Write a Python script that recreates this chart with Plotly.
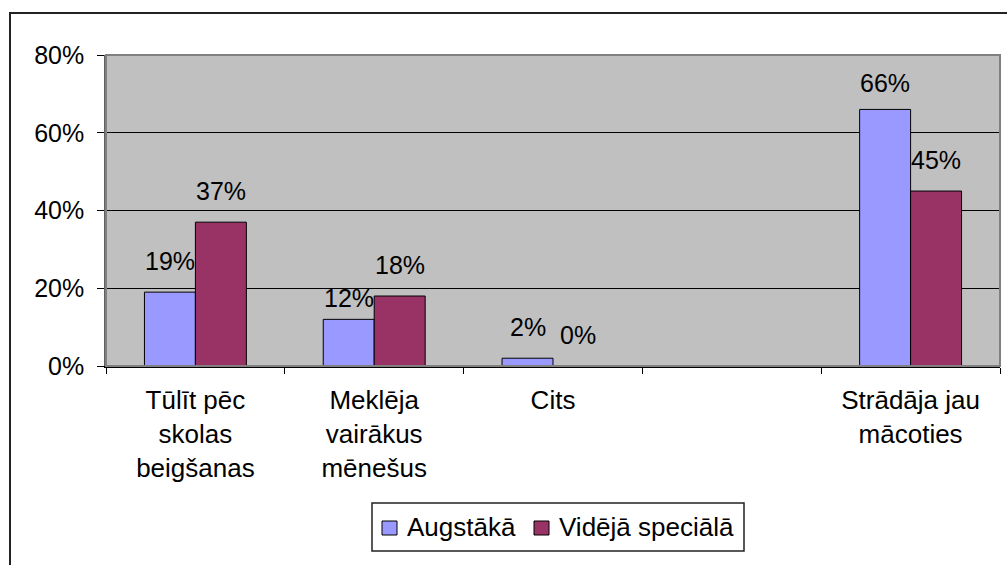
import plotly.graph_objects as go

# Chart data
categories = [
    "Tūlīt pēc<br>skolas<br>beigšanas",
    "Meklēja<br>vairākus<br>mēnešus",
    "Cits",
    " ",
    "Strādāja jau<br>mācoties",
]
series_names = ["Augstākā", "Vidējā speciālā"]
augstaka = [0.19, 0.12, 0.02, None, 0.66]
videja_specialā = [0.37, 0.18, 0.00, None, 0.45]
y_tick_values = [0, 0.2, 0.4, 0.6, 0.8]
y_tick_labels = ["0%", "20%", "40%", "60%", "80%"]

colors = ["#9999FF", "#993366"]
FONT = "Liberation Sans, Arial, sans-serif"

# Canvas and plot-area geometry (pixels)
W, H = 1007, 565
L, R, T, B = 106, 1000, 55, 366


def px(x):
    return (x - L) / (R - L)


def py(y):
    return (B - y) / (B - T)


fig = go.Figure()
series = [augstaka, videja_specialā]
for name, vals, col in zip(series_names, series, colors):
    fig.add_trace(go.Bar(
        x=categories, y=vals, name=name,
        marker=dict(color=col, line=dict(color="black", width=1)),
        showlegend=False,
    ))

# Value labels above each bar
bar_px = (R - L) / len(categories) * (1 - 0.43) / 2
label_drop = {(1, 0): 10, (4, 0): 5}  # a few labels sit a little lower
for si, vals in enumerate(series):
    shift = (si - 0.5) * bar_px
    for ci, v in enumerate(vals):
        if v is None:
            continue
        fig.add_annotation(
            x=categories[ci], y=v, xref="x", yref="y",
            text=f"{round(v * 100)}%", showarrow=False,
            xshift=shift, yshift=31 - label_drop.get((ci, si), 0),
            xanchor="center", yanchor="middle",
            font=dict(family=FONT, size=25, color="black"),
        )

shapes = [
    # outer chart frame
    dict(type="rect", xref="paper", yref="paper",
         x0=px(10), y0=py(620), x1=px(1012), y1=py(13),
         line=dict(color="#222222", width=2), layer="below"),
    # plot-area border
    dict(type="rect", xref="paper", yref="paper",
         x0=0, y0=0, x1=1, y1=1,
         line=dict(color="#808080", width=2), layer="above"),
    # legend box
    dict(type="rect", xref="paper", yref="paper",
         x0=px(372), y0=py(551), x1=px(744), y1=py(503),
         line=dict(color="#222222", width=1.5), fillcolor="white"),
]
legend_items = [(382, 405), (534, 557)]
for (sx, tx), name, col in zip(legend_items, series_names, colors):
    shapes.append(dict(type="rect", xref="paper", yref="paper",
                       x0=px(sx), y0=py(535), x1=px(sx + 15), y1=py(521),
                       fillcolor=col, line=dict(color="black", width=1)))
    fig.add_annotation(x=px(tx), y=py(527), xref="paper", yref="paper",
                       text=name, showarrow=False, xanchor="left", yanchor="middle",
                       font=dict(family=FONT, size=26, color="black"))

fig.update_layout(
    width=W, height=H,
    margin=dict(l=L, r=W - R, t=T, b=H - B),
    paper_bgcolor="white", plot_bgcolor="#C0C0C0",
    barmode="group", bargap=0.43, bargroupgap=0,
    font=dict(family=FONT, size=26, color="black"),
    shapes=shapes,
)
fig.update_xaxes(
    type="category", categoryorder="array", categoryarray=categories,
    tickson="boundaries", ticks="outside", ticklen=6, tickcolor="black",
    showline=True, linecolor="black", linewidth=1.5,
    showgrid=False, tickfont=dict(family=FONT, size=26), ticklabelstandoff=10,
)
fig.update_yaxes(
    range=[0, 0.8], tickvals=y_tick_values, ticktext=y_tick_labels,
    ticks="outside", ticklen=7, tickcolor="black",
    showline=True, linecolor="#606060", linewidth=1.5,
    showgrid=True, gridcolor="black", gridwidth=1, zeroline=False,
    tickfont=dict(family=FONT, size=25), ticklabelstandoff=8,
)

fig.write_html("out.html")
